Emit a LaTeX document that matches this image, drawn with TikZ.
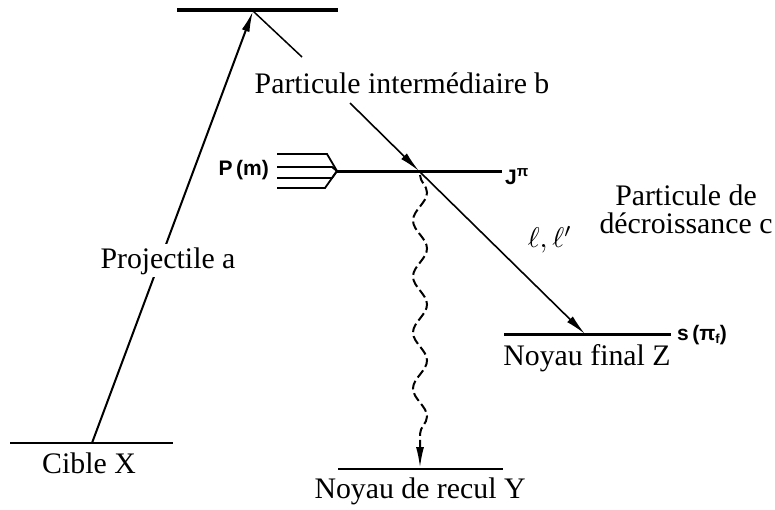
\documentclass[tikz,border=0pt]{standalone}
\usepackage{fontspec}
\setmainfont{Liberation Serif}
\newfontfamily\lblfont{Liberation Sans}
\usetikzlibrary{arrows.meta,decorations.pathmorphing}
\begin{document}
\begin{tikzpicture}[x=1pt,y=-1pt,
  lvl/.style={line width=3.5pt},
  lvlthin/.style={line width=2pt},
  txt/.style={font=\fontsize{29.8}{34}\selectfont, inner sep=0pt, anchor=base},
  small/.style={font=\lblfont\bfseries\fontsize{21}{24}\selectfont, inner sep=0pt},
  arr/.style={line width=1.6pt, -{Latex[length=21pt,width=8pt]}},
  fork/.style={line width=1.8pt},
]
\useasboundingbox (0,0) rectangle (775,509);
% coordinates
\coordinate (T1) at (177,10); \coordinate (T2) at (338,10);
\coordinate (Ttip) at (253,11);
\coordinate (Tend) at (302,57);
\coordinate (X1) at (10,443); \coordinate (X2) at (173,443);
\coordinate (Xa) at (92,443);
\coordinate (J0) at (337,171); \coordinate (J2) at (502,171);
\coordinate (V) at (419,171);
\coordinate (Bs) at (350,103);
\coordinate (Z1) at (504,334); \coordinate (Z2) at (671,334);
\coordinate (Zt) at (585,334);
\coordinate (Y1) at (338,469); \coordinate (Y2) at (503,469);
\coordinate (Vb) at (420,175);
\coordinate (Yt) at (420,468);
% levels
\draw[lvl] (T1) -- (T2);
\draw[line width=3pt] (J0) -- (J2);
\draw[line width=3pt] (Z1) -- (Z2);
\draw[lvlthin] (X1) -- (X2);
\draw[lvlthin] (Y1) -- (Y2);
% fork P(m)
\draw[fork] (277,154) -- (327,154) -- (J0);
\draw[fork] (277,167) -- (332,167) -- (J0);
\draw[fork] (277,178) -- (332,178) -- (J0);
\draw[fork] (277,188) -- (325,188) -- (J0);
% connectors
\draw[arr, line width=2pt] (Xa) -- (Ttip);
\draw[line width=1.5pt] (Ttip) -- (Tend);
\draw[arr] (Bs) -- (V);
\draw[arr] (V) -- (Zt);
\draw[line width=2pt, dash pattern=on 9pt off 4pt,
  decorate, decoration={snake, amplitude=7pt, segment length=56pt, post length=20pt},
  -{Latex[length=21pt,width=8pt]}] (Vb) -- (Yt);
% labels
\node[txt] (lb) at (402,93) {Particule intermédiaire b};
\node[txt, fill=white, inner sep=3pt] (la) at (168,268) {Projectile a};
\node[txt] (lx) at (89,473) {Cible X};
\node[txt] (ly) at (420,498) {Noyau de recul Y};
\node[txt] (lz) at (587,365) {Noyau final Z};
\node[txt] (lc1) at (686,205) {Particule de};
\node[txt] (lc2) at (686,233) {décroissance c};
\node[scale=2.85, inner sep=0pt] (ll) at (550,240) {$\ell,\ell'$};
\node[small, anchor=east] (lp) at (269,170) {P\,(m)};
\node[small, anchor=west] (lj) at (505,177) {J\raisebox{8pt}{\fontsize{15}{15}\selectfont π}};
\node[small, anchor=west] (ls) at (677,335) {s\,(π\raisebox{-3pt}{\fontsize{13}{13}\selectfont f})};
\end{tikzpicture}
\end{document}
